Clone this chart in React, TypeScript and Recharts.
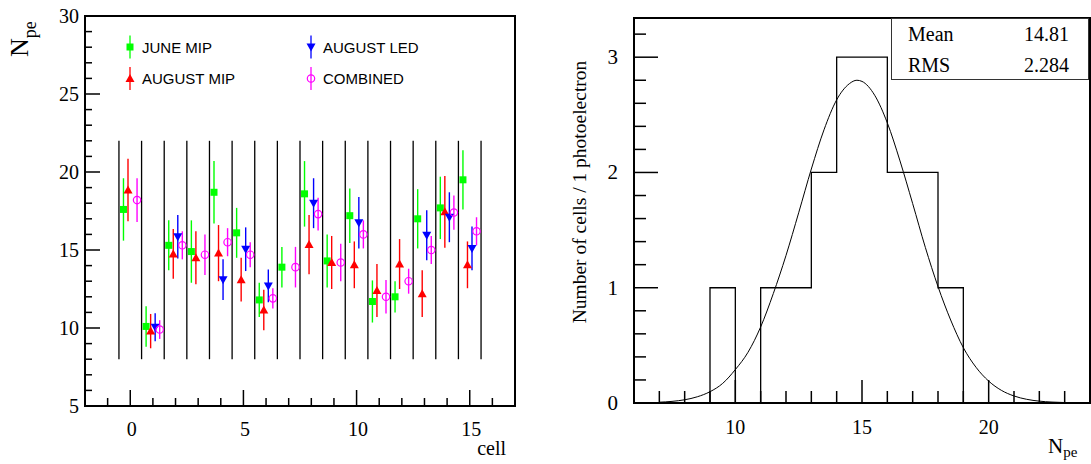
import { ComposedChart, Scatter, ErrorBar, Line, XAxis, YAxis, ReferenceArea, ReferenceLine } from "recharts";

// cell-by-cell photoelectron yield, four measurements per cell
const cells = [0, 1, 2, 3, 4, 5, 6, 7, 8, 9, 10, 11, 12, 13, 14, 15];
const juneMip = [17.6, 10.1, 15.3, 14.9, 18.7, 16.1, 11.8, 13.9, 18.6, 14.3, 17.2, 11.7, 12.0, 17.0, 17.7, 19.5];
const juneMipErr = [2.0, 1.3, 1.6, 2.0, 2.0, 1.6, 1.1, 1.3, 2.1, 1.7, 1.75, 1.35, 1.0, 1.9, 2.0, 1.9];
const augustMip = [18.85, 9.8, 14.75, 14.5, 14.8, 13.1, 11.15, null, 15.35, 14.2, 14.05, 12.4, 14.1, 12.2, 17.45, 14.05];
const augustMipErr = [2.0, 1.1, 1.6, 1.7, 1.8, 1.4, 1.3, null, 1.9, 1.7, 1.5, 1.7, 1.6, 1.5, 2.3, 1.5];
const augustLed = [null, 10.05, 15.85, null, 13.1, 15.05, 12.7, null, 18.0, null, 16.75, null, null, 15.95, 17.1, 15.1];
const augustLedErr = [null, 0.9, 1.4, null, 1.3, 1.4, 1.05, null, 1.6, null, 1.65, null, null, 1.6, 1.6, 1.4];
const combined = [18.2, 9.9, 15.3, 14.7, 15.5, 14.7, 11.9, 13.9, 17.3, 14.2, 16.0, 12.0, 13.0, 15.0, 17.4, 16.2];
const combinedErr = [1.4, 0.6, 0.9, 1.3, 0.9, 0.8, 0.65, 1.3, 1.05, 1.2, 0.9, 1.07, 0.8, 0.9, 1.1, 0.9];

const leftYTicks = [5, 6, 7, 8, 9, 10, 11, 12, 13, 14, 15, 16, 17, 18, 19, 20, 21, 22, 23, 24, 25, 26, 27, 28, 29, 30];
const leftXTicks = [-1, 0, 1, 2, 3, 4, 5, 6, 7, 8, 9, 10, 11, 12, 13, 14, 15, 16];
const dividerRange = [8, 22];

// histogram of combined N_pe, 1 p.e. bins
const binLow = [6, 7, 8, 9, 10, 11, 12, 13, 14, 15, 16, 17, 18, 19, 20, 21, 22, 23];
const binCounts = [0, 0, 0, 1, 0, 1, 1, 2, 3, 3, 2, 2, 1, 0, 0, 0, 0, 0];
const fitX = [7, 7.5, 8, 8.5, 9, 9.5, 10, 10.5, 11, 11.5, 12, 12.5, 13, 13.5, 14, 14.5, 14.8, 15, 15.5, 16, 16.5, 17, 17.5, 18, 18.5, 19, 19.5, 20, 20.5, 21, 21.5, 22, 22.5, 23];
const fitY = [0.007, 0.014, 0.028, 0.054, 0.098, 0.17, 0.29, 0.44, 0.66, 0.95, 1.28, 1.65, 2.03, 2.37, 2.63, 2.77, 2.8, 2.79, 2.67, 2.43, 2.1, 1.73, 1.35, 1.01, 0.72, 0.48, 0.31, 0.19, 0.11, 0.061, 0.032, 0.016, 0.008, 0.004];
const rightXTicks = [7, 8, 9, 10, 11, 12, 13, 14, 15, 16, 17, 18, 19, 20, 21, 22, 23];
const rightYTicks = [0, 0.2, 0.4, 0.6, 0.8, 1, 1.2, 1.4, 1.6, 1.8, 2, 2.2, 2.4, 2.6, 2.8, 3, 3.2];
const statLabels = ["Mean", "RMS"];
const statValues = ["14.81", "2.284"];

const SERIF = "'Liberation Serif', 'Times New Roman', serif";
const SANS = "'Liberation Sans', Arial, sans-serif";
const GREEN = "#00ff00";
const RED = "#ff0000";
const BLUE = "#0000ff";
const MAGENTA = "#ff00ff";

const build = (vals: (number | null)[], errs: (number | null)[], off: number) =>
  cells
    .map((c, i) => (vals[i] == null ? null : { x: c + off, y: vals[i], err: errs[i] }))
    .filter(Boolean) as { x: number; y: number; err: number }[];

const cellEdges = [...cells.map((c) => c - 0.5), cells[cells.length - 1] + 0.5];

const histData = [
  ...binLow.map((b, i) => ({ x: b, y: binCounts[i] })),
  { x: binLow[binLow.length - 1] + 1, y: binCounts[binCounts.length - 1] },
];
const fitData = fitX.map((x, i) => ({ x, y: fitY[i] }));

const squareShape = (p: any) => <rect x={p.cx - 3.5} y={p.cy - 3.5} width={7} height={7} fill={GREEN} />;
const triUpShape = (p: any) => (
  <polygon points={`${p.cx},${p.cy - 4.5} ${p.cx + 4.5},${p.cy + 3.5} ${p.cx - 4.5},${p.cy + 3.5}`} fill={RED} />
);
const triDownShape = (p: any) => (
  <polygon points={`${p.cx},${p.cy + 4.5} ${p.cx + 4.5},${p.cy - 3.5} ${p.cx - 4.5},${p.cy - 3.5}`} fill={BLUE} />
);
const circleShape = (p: any) => <circle cx={p.cx} cy={p.cy} r={3.7} fill="none" stroke={MAGENTA} strokeWidth={1.2} />;

const series = [
  { name: "JUNE MIP", data: build(juneMip, juneMipErr, -0.3), color: GREEN, shape: squareShape },
  { name: "AUGUST MIP", data: build(augustMip, augustMipErr, -0.1), color: RED, shape: triUpShape },
  { name: "AUGUST LED", data: build(augustLed, augustLedErr, 0.1), color: BLUE, shape: triDownShape },
  { name: "COMBINED", data: build(combined, combinedErr, 0.3), color: MAGENTA, shape: circleShape },
];

const isInt = (v: number) => Math.abs(v - Math.round(v)) < 1e-6;

const LeftYTick = ({ x, y, payload }: any) => {
  const major = payload.value % 5 === 0;
  return (
    <g>
      <line x1={x} y1={y} x2={x + (major ? 15 : 7)} y2={y} stroke="#000" strokeWidth={1.5} />
      {major && (
        <text x={x - 6} y={y} textAnchor="end" dominantBaseline="central" fontFamily={SERIF} fontSize={20} fill="#000">
          {payload.value}
        </text>
      )}
    </g>
  );
};

const LeftXTick = ({ x, y, payload }: any) => {
  const major = payload.value % 5 === 0;
  return (
    <g>
      <line x1={x} y1={y} x2={x} y2={y - (major ? 16 : 8)} stroke="#000" strokeWidth={1.5} />
      {major && (
        <text x={x + 1.5} y={y + 23} textAnchor="middle" dominantBaseline="central" fontFamily={SERIF} fontSize={20} fill="#000">
          {payload.value}
        </text>
      )}
    </g>
  );
};

const RightYTick = ({ x, y, payload }: any) => {
  const major = isInt(payload.value);
  return (
    <g>
      <line x1={x} y1={y} x2={x + (major ? 24 : 12)} y2={y} stroke="#000" strokeWidth={1.5} />
      {major && (
        <text x={x - 16} y={y} textAnchor="end" dominantBaseline="central" fontFamily={SERIF} fontSize={21} fill="#000">
          {Math.round(payload.value)}
        </text>
      )}
    </g>
  );
};

const RightXTick = ({ x, y, payload }: any) => {
  const major = payload.value % 5 === 0;
  return (
    <g>
      <line x1={x} y1={y} x2={x} y2={y - (major ? 23 : 12)} stroke="#000" strokeWidth={1.5} />
      {major && (
        <text x={x} y={y + 24} textAnchor="middle" dominantBaseline="central" fontFamily={SERIF} fontSize={20} fill="#000">
          {payload.value}
        </text>
      )}
    </g>
  );
};

const CellChart = () => (
  <ComposedChart width={545} height={464} margin={{ top: 16, right: 30, left: 45, bottom: 28 }}>
    <XAxis
      type="number"
      dataKey="x"
      domain={[-2, 17]}
      ticks={leftXTicks}
      interval={0}
      height={30}
      tickSize={0}
      tickMargin={0}
      axisLine={false}
      tickLine={false}
      allowDataOverflow
      tick={LeftXTick}
    />
    <YAxis
      type="number"
      dataKey="y"
      domain={[5, 30]}
      ticks={leftYTicks}
      interval={0}
      width={40}
      tickSize={0}
      tickMargin={0}
      axisLine={false}
      tickLine={false}
      allowDataOverflow
      tick={LeftYTick}
    />
    <ReferenceArea x1={-2} x2={17} y1={5} y2={30} fill="none" stroke="#000" strokeWidth={2} />
    {cellEdges.map((e) => (
      <ReferenceLine
        key={e}
        segment={[{ x: e, y: dividerRange[0] }, { x: e, y: dividerRange[1] }]}
        stroke="#000"
        strokeWidth={1.3}
      />
    ))}
    {series.map((s) => (
      <Scatter key={s.name} name={s.name} data={s.data} shape={s.shape} isAnimationActive={false}>
        <ErrorBar dataKey="err" direction="y" width={0} stroke={s.color} strokeWidth={1.4} />
      </Scatter>
    ))}
  </ComposedChart>
);

const HistChart = () => (
  <ComposedChart width={546} height={464} margin={{ top: 18, right: 1, left: 49, bottom: 31 }}>
    <XAxis
      type="number"
      dataKey="x"
      domain={[6, 24]}
      ticks={rightXTicks}
      interval={0}
      height={30}
      tickSize={0}
      tickMargin={0}
      axisLine={false}
      tickLine={false}
      allowDataOverflow
      tick={RightXTick}
    />
    <YAxis
      type="number"
      dataKey="y"
      domain={[0, 3.34]}
      ticks={rightYTicks}
      interval={0}
      width={40}
      tickSize={0}
      tickMargin={0}
      axisLine={false}
      tickLine={false}
      allowDataOverflow
      tick={RightYTick}
    />
    <ReferenceArea x1={6} x2={24} y1={0} y2={3.34} fill="none" stroke="#000" strokeWidth={2} />
    <Line data={histData} dataKey="y" type="stepAfter" stroke="#000" strokeWidth={1.3} dot={false} isAnimationActive={false} />
    <Line data={fitData} dataKey="y" type="monotone" stroke="#000" strokeWidth={1} dot={false} isAnimationActive={false} />
  </ComposedChart>
);

const legendPos = [
  { x: 130, y: 47 },
  { x: 130, y: 78.5 },
  { x: 311, y: 47 },
  { x: 311, y: 78.5 },
];

const Overlay = () => (
  <svg width={1091} height={464} style={{ position: "absolute", left: 0, top: 0, pointerEvents: "none" }}>
    {/* legend */}
    {series.map((s, i) => {
      const p = legendPos[i];
      return (
        <g key={s.name}>
          <line x1={p.x} y1={p.y - 11.5} x2={p.x} y2={p.y + 11.5} stroke={s.color} strokeWidth={1.3} />
          {s.shape({ cx: p.x, cy: p.y })}
          <text x={p.x + 12} y={p.y} dominantBaseline="central" fontFamily={SANS} fontSize={15} fill="#000">
            {s.name}
          </text>
        </g>
      );
    })}
    {/* axis titles */}
    <text transform="translate(28,57) rotate(-90)" fontFamily={SERIF} fontSize={26} fill="#000">
      N<tspan fontSize={18} dy={8}>pe</tspan>
    </text>
    <text x={506} y={455} textAnchor="end" fontFamily={SERIF} fontSize={20} fill="#000">
      cell
    </text>
    <text transform="translate(586,192) rotate(-90)" textAnchor="middle" fontFamily={SERIF} fontSize={19.5} fill="#000">
      Number of cells / 1 photoelectron
    </text>
    <text x={1048} y={453} fontFamily={SERIF} fontSize={21} fill="#000">
      N<tspan fontSize={15} dy={4}>pe</tspan>
    </text>
    {/* stats box */}
    <rect x={891.5} y={18.5} width={197} height={61} fill="#fff" stroke="#333" strokeWidth={1} />
    {statLabels.map((l, i) => (
      <g key={l}>
        <text x={908} y={33.5 + i * 31} dominantBaseline="central" fontFamily={SERIF} fontSize={20} fill="#000">
          {l}
        </text>
        <text x={1069} y={33.5 + i * 31} textAnchor="end" dominantBaseline="central" fontFamily={SERIF} fontSize={20} fill="#000">
          {statValues[i]}
        </text>
      </g>
    ))}
  </svg>
);

export default function App() {
  return (
    <div style={{ position: "absolute", left: 0, top: 0, width: 1091, height: 464, background: "#fff" }}>
      <div style={{ position: "absolute", left: 0, top: 0 }}>
        <CellChart />
      </div>
      <div style={{ position: "absolute", left: 545, top: 0 }}>
        <HistChart />
      </div>
      <Overlay />
    </div>
  );
}
